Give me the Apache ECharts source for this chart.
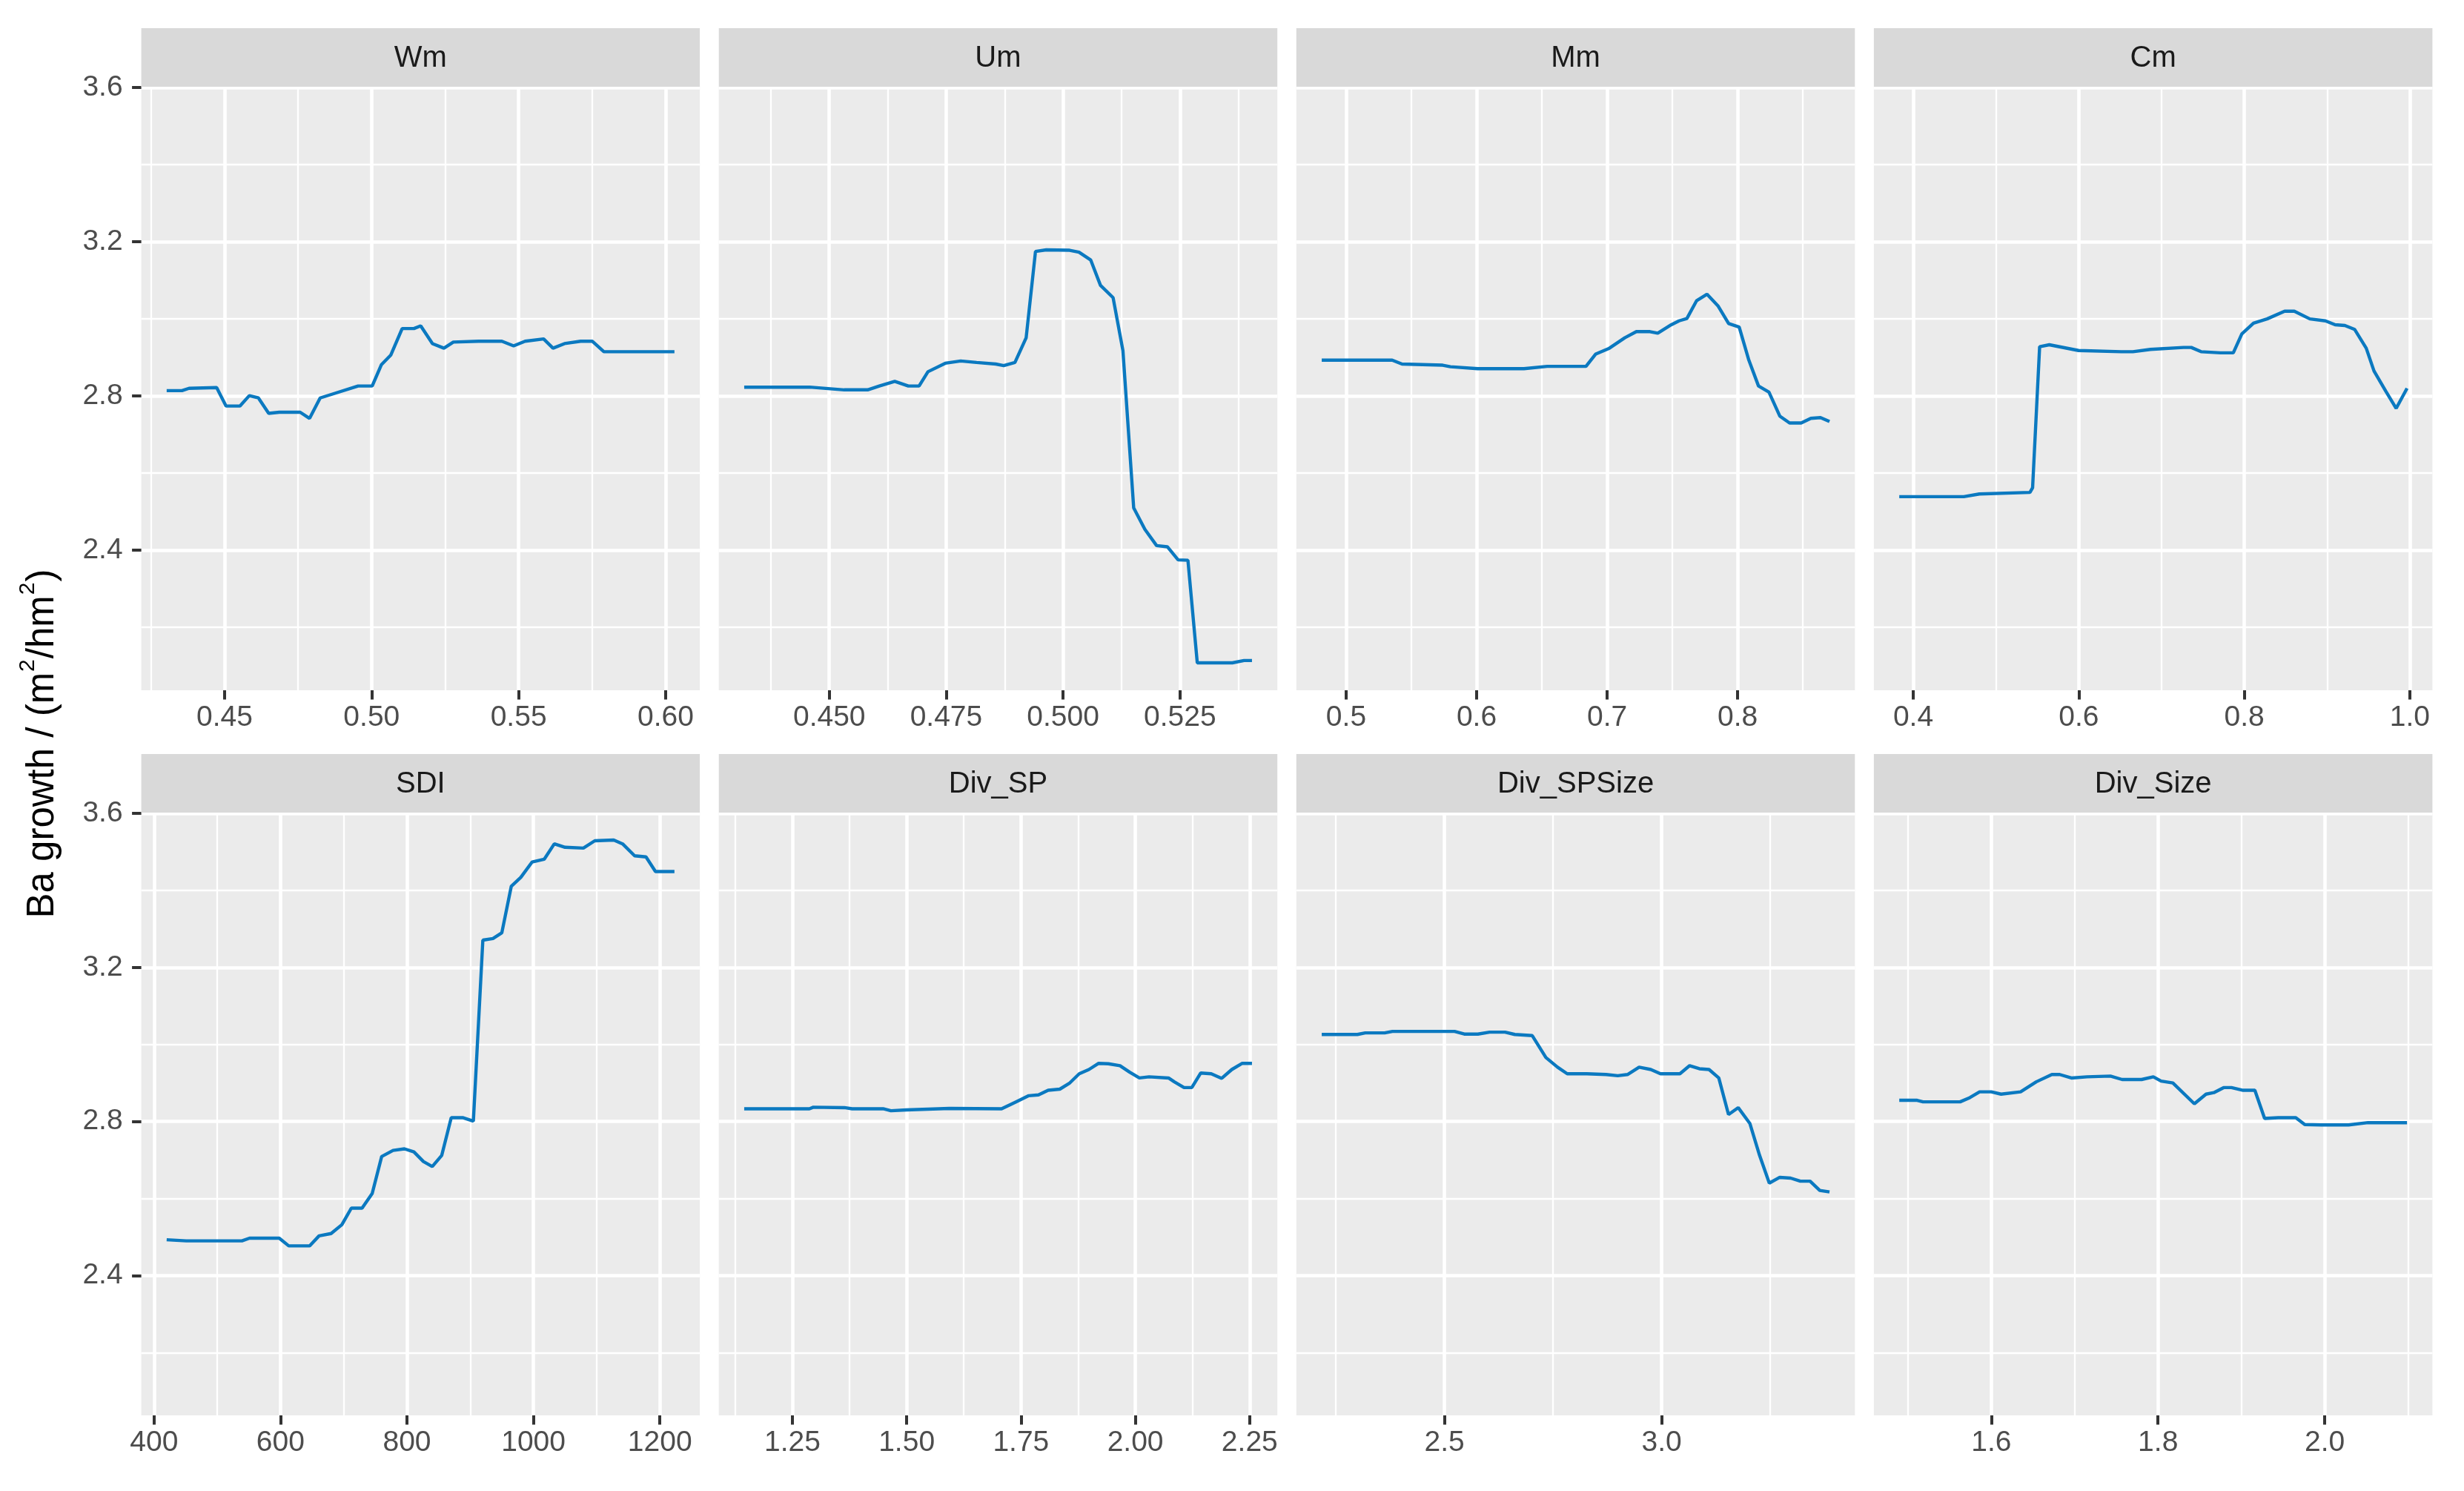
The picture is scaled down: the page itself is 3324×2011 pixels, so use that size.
<!DOCTYPE html>
<html><head><meta charset="utf-8">
<script src="https://cdn.jsdelivr.net/npm/echarts@6/dist/echarts.min.js"></script>
<style>html,body{margin:0;padding:0;background:#fff}#c{width:3324px;height:2011px}</style>
</head><body><div id="c"></div>
<script>
// ---------------- data ----------------
const panelNames = ['Wm','Um','Mm','Cm','SDI','Div_SP','Div_SPSize','Div_Size'];

const wmX = [0.4303,0.4355,0.4379,0.4473,0.4505,0.4552,0.4584,0.4615,0.4650,0.4686,0.4757,0.4789,0.4825,0.4875,0.4954,0.5002,0.5033,0.5065,0.5104,0.5144,0.5167,0.5207,0.5246,0.5278,0.5364,0.5443,0.5483,0.5522,0.5585,0.5617,0.5656,0.5711,0.5751,0.5790,0.6030];
const wmY = [2.814,2.814,2.820,2.822,2.774,2.774,2.801,2.795,2.755,2.758,2.758,2.742,2.795,2.807,2.826,2.826,2.881,2.906,2.975,2.975,2.982,2.936,2.924,2.940,2.942,2.942,2.930,2.942,2.948,2.924,2.936,2.942,2.942,2.915,2.915];

const umX = [0.4318,0.4458,0.4532,0.4582,0.4607,0.4640,0.4669,0.4692,0.4711,0.4748,0.4781,0.4815,0.4856,0.4873,0.4897,0.4921,0.4941,0.4964,0.5014,0.5034,0.5059,0.5080,0.5107,0.5128,0.5151,0.5175,0.5200,0.5223,0.5246,0.5267,0.5287,0.5362,0.5387,0.5404];
const umY = [2.823,2.823,2.816,2.816,2.826,2.838,2.826,2.826,2.863,2.885,2.891,2.887,2.883,2.879,2.887,2.951,3.175,3.179,3.178,3.173,3.153,3.087,3.055,2.918,2.510,2.454,2.412,2.409,2.375,2.374,2.108,2.108,2.114,2.114];

const mmX = [0.4813,0.5353,0.5428,0.5740,0.5799,0.6007,0.6363,0.6541,0.6838,0.6913,0.7017,0.7135,0.7224,0.7328,0.7388,0.7492,0.7551,0.7611,0.7685,0.7765,0.7849,0.7931,0.8012,0.8086,0.8160,0.8240,0.8323,0.8398,0.8487,0.8561,0.8635,0.8704];
const mmY = [2.893,2.893,2.883,2.880,2.876,2.871,2.871,2.877,2.877,2.909,2.924,2.951,2.967,2.967,2.963,2.985,2.995,3.001,3.047,3.064,3.034,2.988,2.979,2.893,2.826,2.810,2.748,2.730,2.730,2.742,2.744,2.734];

const cmX = [0.3831,0.4611,0.4799,0.5410,0.5442,0.5527,0.5644,0.5997,0.6513,0.6654,0.6866,0.7265,0.7359,0.7477,0.7712,0.7867,0.7970,0.8111,0.8275,0.8487,0.8604,0.8792,0.8980,0.9097,0.9215,0.9332,0.9473,0.9567,0.9708,0.9835,0.9966];
const cmY = [2.539,2.539,2.546,2.550,2.562,2.928,2.933,2.918,2.915,2.915,2.921,2.926,2.926,2.915,2.912,2.912,2.961,2.989,3.000,3.020,3.020,3.000,2.995,2.985,2.983,2.973,2.924,2.865,2.813,2.768,2.820];

const sdiX = [420,451,539,551,598,613,646,661,680,697,712,729,745,760,778,796,811,826,840,855,870,888,905,920,936,950,965,980,998,1017,1033,1050,1079,1097,1127,1141,1160,1178,1193,1223];
const sdiY = [2.493,2.490,2.490,2.497,2.497,2.477,2.477,2.503,2.509,2.532,2.575,2.575,2.613,2.709,2.725,2.729,2.721,2.696,2.683,2.712,2.810,2.810,2.801,3.271,3.275,3.290,3.411,3.434,3.474,3.481,3.521,3.512,3.510,3.529,3.531,3.521,3.490,3.487,3.449,3.449];

const divSpX = [1.1447,1.2873,1.2958,1.3638,1.3807,1.4486,1.4656,1.4996,1.5934,1.7075,1.7373,1.7670,1.7882,1.8094,1.8349,1.8556,1.8773,1.8986,1.9198,1.9410,1.9665,1.9877,2.0089,2.0301,2.0726,2.0853,2.1065,2.1235,2.1431,2.1660,2.1889,2.2110,2.2339,2.2551];
const divSpY = [2.833,2.833,2.837,2.836,2.833,2.833,2.828,2.830,2.834,2.833,2.850,2.867,2.869,2.881,2.884,2.899,2.924,2.935,2.951,2.950,2.945,2.928,2.913,2.916,2.913,2.903,2.888,2.888,2.926,2.924,2.912,2.935,2.951,2.951];

const divSpSizeX = [2.2174,2.2996,2.3175,2.3623,2.3801,2.5233,2.5456,2.5769,2.6038,2.6395,2.6619,2.7021,2.7335,2.7603,2.7826,2.8274,2.8721,2.8989,2.9213,2.9481,2.9750,2.9973,3.0420,3.0644,3.0868,3.1091,3.1315,3.1539,3.1762,3.2030,3.2254,3.2478,3.2719,3.2970,3.3193,3.3417,3.3640,3.3864];
const divSpSizeY = [3.026,3.026,3.030,3.030,3.034,3.034,3.027,3.027,3.032,3.032,3.026,3.023,2.966,2.941,2.924,2.924,2.922,2.919,2.922,2.941,2.935,2.924,2.924,2.945,2.937,2.935,2.913,2.818,2.836,2.795,2.712,2.640,2.655,2.653,2.645,2.645,2.621,2.617];

const divSizeX = [1.4895,1.5110,1.5180,1.5625,1.5742,1.5859,1.6000,1.6117,1.6351,1.6539,1.6726,1.6820,1.6960,1.7148,1.7429,1.7569,1.7803,1.7944,1.8037,1.8178,1.8436,1.8576,1.8670,1.8787,1.8881,1.9021,1.9162,1.9279,1.9443,1.9653,1.9761,1.9958,2.0286,2.0520,2.0988];
const divSizeY = [2.855,2.855,2.851,2.851,2.862,2.877,2.877,2.871,2.877,2.903,2.922,2.922,2.913,2.916,2.918,2.909,2.909,2.916,2.905,2.900,2.846,2.871,2.875,2.888,2.888,2.881,2.881,2.808,2.810,2.810,2.792,2.791,2.791,2.797,2.797];

// tick labels (major) and minor grid positions
const wmTicks = [0.45,0.50,0.55,0.60];        const wmMinor = [0.425,0.475,0.525,0.575];
const umTicks = [0.450,0.475,0.500,0.525];    const umMinor = [0.4375,0.4625,0.4875,0.5125,0.5375];
const mmTicks = [0.5,0.6,0.7,0.8];            const mmMinor = [0.55,0.65,0.75,0.85];
const cmTicks = [0.4,0.6,0.8,1.0];            const cmMinor = [0.5,0.7,0.9];
const sdiTicks = [400,600,800,1000,1200];     const sdiMinor = [500,700,900,1100];
const divSpTicks = [1.25,1.50,1.75,2.00,2.25]; const divSpMinor = [1.125,1.375,1.625,1.875,2.125];
const divSpSizeTicks = [2.5,3.0];             const divSpSizeMinor = [2.25,2.75,3.25];
const divSizeTicks = [1.6,1.8,2.0];           const divSizeMinor = [1.5,1.7,1.9,2.1];
const yTicks = [2.4,2.8,3.2,3.6];             const yMinor = [2.2,2.6,3.0,3.4];
const tickDecimals = [2,3,1,1,0,2,1,1];

// ---------------- layout / style ----------------
const FONT = '"Liberation Sans", Arial, Helvetica, sans-serif';
const LINE_COLOR = '#0B79C0';
const L0 = 190.6, STEP = 779.1, W = 753.5;
const ROW_TOP = [117, 1096], ROW_H = [814, 813], STRIP_H = 79;

const panels = [
  {x: wmX, y: wmY, t: wmTicks, m: wmMinor},
  {x: umX, y: umY, t: umTicks, m: umMinor},
  {x: mmX, y: mmY, t: mmTicks, m: mmMinor},
  {x: cmX, y: cmY, t: cmTicks, m: cmMinor},
  {x: sdiX, y: sdiY, t: sdiTicks, m: sdiMinor},
  {x: divSpX, y: divSpY, t: divSpTicks, m: divSpMinor},
  {x: divSpSizeX, y: divSpSizeY, t: divSpSizeTicks, m: divSpSizeMinor},
  {x: divSizeX, y: divSizeY, t: divSizeTicks, m: divSizeMinor}
];

// global y range with ggplot-like 5% expansion
const allY = [].concat(...panels.map(p => p.y));
const yMinD = Math.min(...allY), yMaxD = Math.max(...allY), yR = yMaxD - yMinD;
const yLo = yMinD - 0.05 * yR, yHi = yMaxD + 0.05 * yR;

const grid = [], xAxis = [], yAxis = [], series = [], graphic = [];

panels.forEach((p, i) => {
  const col = i % 4, row = Math.floor(i / 4);
  const left = L0 + col * STEP, top = ROW_TOP[row], h = ROW_H[row];
  grid.push({left: left, top: top, width: W, height: h, show: true,
    backgroundColor: '#EBEBEB', borderWidth: 0, containLabel: false});

  const xMinD = Math.min(...p.x), xMaxD = Math.max(...p.x), xR = xMaxD - xMinD;
  const xLo = xMinD - 0.05 * xR, xHi = xMaxD + 0.05 * xR;
  const dec = tickDecimals[i];

  // major x axis
  xAxis.push({gridIndex: i, type: 'value', min: xLo, max: xHi, position: 'bottom',
    axisLine: {show: false},
    axisTick: {show: true, customValues: p.t, length: 12.5, lineStyle: {color: '#333333', width: 4}},
    axisLabel: {show: true, customValues: p.t, formatter: v => Number(v).toFixed(dec),
      color: '#4D4D4D', fontSize: 39, fontFamily: FONT, margin: 18},
    splitLine: {show: true, lineStyle: {color: '#FFFFFF', width: 4.6}}});
  // minor x axis (grid only)
  xAxis.push({gridIndex: i, type: 'value', min: xLo, max: xHi, position: 'bottom',
    axisLine: {show: false}, axisTick: {show: false, customValues: p.m},
    axisLabel: {show: false, customValues: p.m},
    splitLine: {show: true, lineStyle: {color: '#FFFFFF', width: 2.3}}});

  const showY = col === 0;
  yAxis.push({gridIndex: i, type: 'value', min: yLo, max: yHi,
    axisLine: {show: false},
    axisTick: {show: showY, customValues: yTicks, length: 12.5, lineStyle: {color: '#333333', width: 4}},
    axisLabel: {show: showY, customValues: yTicks, formatter: v => Number(v).toFixed(1),
      color: '#4D4D4D', fontSize: 39, fontFamily: FONT, margin: 25},
    splitLine: {show: true, lineStyle: {color: '#FFFFFF', width: 4.6}}});
  yAxis.push({gridIndex: i, type: 'value', min: yLo, max: yHi,
    axisLine: {show: false}, axisTick: {show: false, customValues: yMinor},
    axisLabel: {show: false, customValues: yMinor},
    splitLine: {show: true, lineStyle: {color: '#FFFFFF', width: 2.3}}});

  series.push({type: 'line', name: panelNames[i], xAxisIndex: 2 * i, yAxisIndex: 2 * i,
    data: p.x.map((v, k) => [v, p.y[k]]), showSymbol: false, symbol: 'none',
    lineStyle: {color: LINE_COLOR, width: 4.4}, silent: true, animation: false, z: 5});

  // facet strip
  graphic.push({type: 'rect', silent: true, z: 10,
    shape: {x: left, y: top - STRIP_H, width: W, height: STRIP_H},
    style: {fill: '#D9D9D9'}});
  graphic.push({type: 'text', silent: true, z: 11, x: left + W / 2, y: top - STRIP_H / 2 + 1,
    style: {text: panelNames[i], fill: '#1A1A1A', fontSize: 40, fontFamily: FONT,
      align: 'center', verticalAlign: 'middle'}});
});

// y axis title with superscripts
graphic.push({type: 'text', silent: true, z: 11, x: 58, y: 1003, rotation: Math.PI / 2,
  style: {text: '{a|Ba growth / (m}{s|2}{a|/hm}{s|2}{a|)}', fill: '#000000',
    align: 'center', verticalAlign: 'middle',
    rich: {
      a: {fontSize: 51, fontFamily: FONT, fill: '#000000'},
      s: {fontSize: 30, fontFamily: FONT, fill: '#000000', padding: [0, 1, 40, 1]}
    }}});

const chart = echarts.init(document.getElementById('c'), null, {renderer: 'canvas'});
chart.setOption({
  backgroundColor: '#FFFFFF',
  animation: false,
  grid: grid, xAxis: xAxis, yAxis: yAxis, series: series, graphic: graphic
});
</script>
</body></html>
